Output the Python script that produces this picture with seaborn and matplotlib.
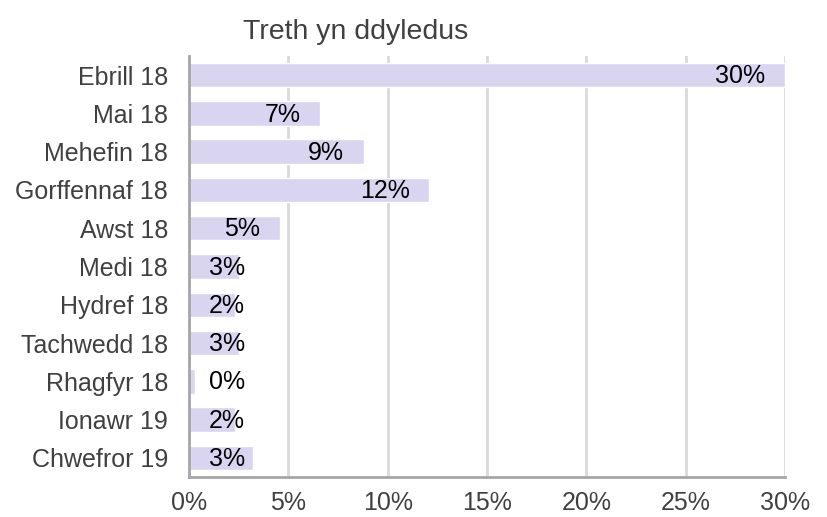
import matplotlib
matplotlib.use("Agg")
import matplotlib.pyplot as plt
import seaborn as sns
import pandas as pd

# data
months = ["Ebrill 18", "Mai 18", "Mehefin 18", "Gorffennaf 18", "Awst 18", "Medi 18",
          "Hydref 18", "Tachwedd 18", "Rhagfyr 18", "Ionawr 19", "Chwefror 19"]
values = [30.0, 6.6, 8.8, 12.1, 4.6, 2.5, 2.3, 2.5, 0.3, 2.3, 3.2]
labels = ["30%", "7%", "9%", "12%", "5%", "3%", "2%", "3%", "0%", "2%", "3%"]
xticks = [0, 5, 10, 15, 20, 25, 30]

df = pd.DataFrame({"month": months, "value": values})

sns.set_style("white")
plt.rcParams["font.family"] = ["Liberation Sans", "DejaVu Sans"]

fig = plt.figure(figsize=(8.28, 5.17), dpi=100)
ax = fig.add_axes([189 / 828, 1 - 477 / 517, 596 / 828, 421 / 517])

sns.barplot(data=df, x="value", y="month", color="#d9d5f1", saturation=1,
            width=0.64, ax=ax, zorder=2)

# value labels
for i, (v, lab) in enumerate(zip(values, labels)):
    if v > 4:
        ax.text(v - 1.0, i + 0.03, lab, ha="right", va="center", fontsize=18, color="black", zorder=3)
    else:
        ax.text(1.0, i + 0.03, lab, ha="left", va="center", fontsize=18, color="black", zorder=3)

ax.set_xlim(0, 30)
ax.set_ylim(len(months) - 0.5, -0.5)
ax.set_xticks(xticks)
ax.set_xticklabels([f"{t}%" for t in xticks])
ax.set_xlabel("")
ax.set_ylabel("")
ax.grid(axis="x", color="#d9d9d9", linewidth=2, zorder=0)
ax.set_axisbelow(True)

for s in ["top", "right"]:
    ax.spines[s].set_visible(False)
ax.spines["left"].set_color("#a6a6a6")
ax.spines["left"].set_linewidth(2)
ax.spines["bottom"].set_color("#a6a6a6")
ax.spines["bottom"].set_linewidth(2)

# y ticks at category boundaries
ax.set_yticks(range(len(months)))
ax.set_yticklabels(months)
ax.set_yticks([i - 0.5 for i in range(len(months) + 1)], minor=True)
ax.tick_params(axis="y", which="major", length=0, labelsize=18, labelcolor="#404040", pad=15)
ax.tick_params(axis="y", which="minor", length=4, width=2, color="#a6a6a6", direction="out")
ax.tick_params(axis="x", length=4, width=2, color="#a6a6a6", direction="out",
               labelsize=18, labelcolor="#404040", pad=6)

fig.text(356 / 828, 1 - 32 / 517, "Treth yn ddyledus", ha="center", va="center",
         fontsize=20.5, color="#404040")

fig.savefig("out.png", dpi=100)
